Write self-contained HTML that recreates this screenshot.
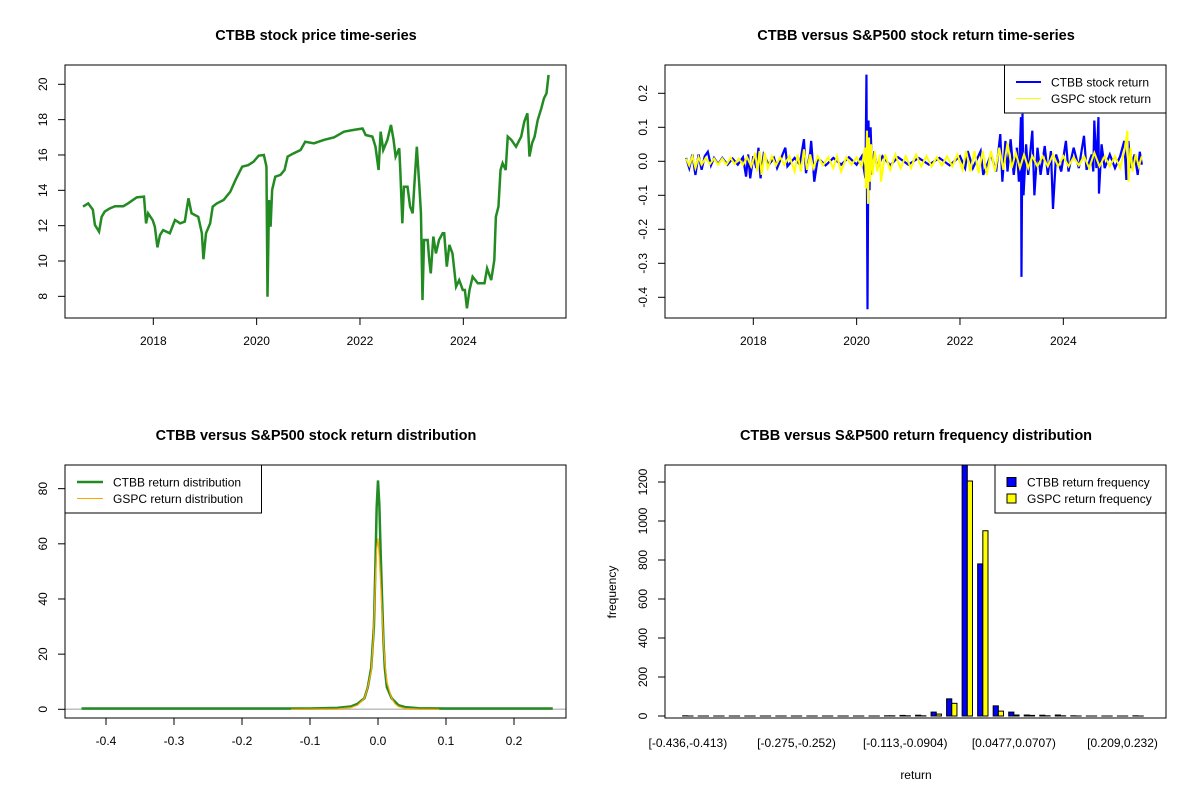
<!DOCTYPE html>
<html><head><meta charset="utf-8"><style>
html,body{margin:0;padding:0;background:#fff;}
svg{display:block;font-family:"Liberation Sans",Arial,sans-serif;}
</style></head><body>
<svg id="chart" width="1200" height="800" viewBox="0 0 1200 800" xmlns="http://www.w3.org/2000/svg">
<rect x="0" y="0" width="1200" height="800" fill="#fff"/>
<defs>
<clipPath id="c1"><rect x="65" y="65" width="501" height="253"/></clipPath>
<clipPath id="c2"><rect x="665" y="65" width="501" height="253"/></clipPath>
<clipPath id="c3"><rect x="65" y="465" width="501" height="253"/></clipPath>
<clipPath id="c4"><rect x="665" y="465" width="501" height="253"/></clipPath>
</defs>
<g id="g1"></g>
<g id="g2"></g>
<g id="g3"></g>
<g id="g4"></g>
</svg>
<script>
// ---- Panel 1: price ----
const priceDates=[2016.64,2016.74,2016.83,2016.87,2016.95,2017.00,2017.06,2017.16,2017.26,2017.42,
2017.51,2017.68,2017.82,2017.86,2017.90,2017.99,2018.03,2018.08,2018.13,2018.19,
2018.32,2018.42,2018.52,2018.61,2018.68,2018.74,2018.87,2018.94,2018.97,2019.02,
2019.10,2019.15,2019.23,2019.36,2019.49,2019.59,2019.72,2019.84,2019.94,2020.04,
2020.14,2020.19,2020.21,2020.24,2020.27,2020.30,2020.36,2020.46,2020.54,2020.60,
2020.72,2020.85,2020.94,2021.11,2021.30,2021.50,2021.69,2021.88,2022.05,2022.11,
2022.24,2022.30,2022.36,2022.40,2022.45,2022.53,2022.60,2022.65,2022.69,2022.76,
2022.78,2022.82,2022.85,2022.92,2022.97,2023.02,2023.05,2023.10,2023.15,2023.18,
2023.21,2023.24,2023.31,2023.34,2023.37,2023.42,2023.47,2023.53,2023.60,2023.63,
2023.68,2023.73,2023.79,2023.86,2023.92,2023.99,2024.03,2024.07,2024.12,2024.18,
2024.28,2024.41,2024.46,2024.54,2024.60,2024.63,2024.68,2024.72,2024.76,2024.82,
2024.86,2024.93,2025.02,2025.12,2025.18,2025.24,2025.28,2025.33,2025.38,2025.44,
2025.51,2025.56,2025.61,2025.65];
const priceValues=[13.08,13.26,12.9,12.04,11.66,12.5,12.8,12.98,13.1,13.1,
13.26,13.6,13.64,12.13,12.7,12.3,11.94,10.77,11.47,11.75,
11.57,12.32,12.13,12.23,13.55,12.7,12.5,11.57,10.1,11.57,
12.13,13.08,13.26,13.45,13.92,14.58,15.34,15.43,15.62,15.96,
16.0,15.34,7.98,13.45,11.94,14.02,14.77,14.87,15.15,15.91,
16.1,16.28,16.75,16.66,16.85,17.0,17.32,17.42,17.5,17.13,
17.04,16.47,15.15,17.32,16.28,16.85,17.7,16.85,15.91,16.38,
15.15,12.13,14.2,14.2,13.08,12.7,14.2,16.47,14.2,12.7,
7.79,11.19,11.19,10.06,9.3,11.38,10.43,11.19,11.57,11.57,
9.68,10.91,10.43,8.55,8.92,8.36,8.36,7.32,8.36,9.11,
8.74,8.74,9.58,8.92,10.06,12.5,13.08,15.15,15.53,15.15,
17.04,16.85,16.47,17.04,17.89,18.36,15.91,16.66,17.04,17.98,
18.64,19.2,19.49,20.53];
const priceTicks=[8,10,12,14,16,18,20];
const yearTicks=[2018,2020,2022,2024];

// ---- Panel 2: returns ----
const ctbbDates=[2016.70,2016.76,2016.82,2016.88,2016.94,2017.00,2017.06,2017.12,2017.18,2017.24,
2017.32,2017.40,2017.50,2017.60,2017.70,2017.80,2017.86,2017.90,2017.94,2018.00,
2018.06,2018.10,2018.14,2018.20,2018.30,2018.40,2018.46,2018.62,2018.66,2018.80,
2018.90,2018.98,2019.02,2019.10,2019.12,2019.16,2019.18,2019.25,2019.40,2019.55,
2019.70,2019.85,2020.00,2020.10,2020.17,2020.19,2020.21,2020.23,2020.25,2020.27,
2020.30,2020.34,2020.40,2020.50,2020.65,2020.80,2021.00,2021.20,2021.40,2021.60,
2021.80,2022.00,2022.10,2022.15,2022.25,2022.40,2022.45,2022.60,2022.70,2022.78,
2022.82,2022.88,2022.92,2022.98,2023.04,2023.10,2023.14,2023.18,2023.19,2023.21,
2023.23,2023.28,2023.32,2023.40,2023.44,2023.50,2023.56,2023.64,2023.70,2023.76,
2023.80,2023.86,2023.96,2024.05,2024.10,2024.20,2024.30,2024.40,2024.45,2024.55,
2024.58,2024.60,2024.64,2024.68,2024.69,2024.74,2024.80,2024.90,2025.00,2025.10,
2025.18,2025.22,2025.26,2025.30,2025.38,2025.44,2025.48,2025.52];
const ctbbReturns=[0.01,-0.02,0.02,-0.04,0.02,-0.025,0.015,0.028,-0.012,0.01,
-0.008,0.01,-0.01,0.008,-0.01,0.012,-0.045,0.02,-0.05,0.015,
-0.02,0.04,-0.05,0.02,-0.01,0.01,-0.02,0.04,-0.015,0.01,
-0.01,0.065,-0.035,0.025,0.06,-0.02,-0.06,0.01,-0.012,0.01,
-0.01,0.012,-0.01,0.015,-0.05,0.255,-0.435,0.12,-0.085,0.1,
-0.04,0.03,-0.02,0.015,-0.012,0.012,-0.01,0.01,-0.01,0.01,
-0.012,0.015,-0.02,0.03,-0.02,0.03,-0.04,0.02,-0.03,0.08,
-0.06,0.06,-0.03,0.065,-0.04,0.04,-0.06,0.13,-0.34,0.14,
-0.1,0.05,-0.04,0.09,-0.1,0.04,-0.04,0.045,-0.04,0.03,
-0.14,0.02,-0.03,0.06,-0.03,0.04,-0.02,0.075,-0.025,0.02,
-0.03,0.12,-0.02,0.13,-0.095,0.05,-0.02,0.02,-0.02,0.015,
0.06,-0.055,0.06,-0.02,0.02,-0.04,0.028,-0.01];
const gspcDates=[2016.70,2016.76,2016.82,2016.88,2016.94,2017.00,2017.08,2017.16,2017.24,2017.32,
2017.40,2017.48,2017.56,2017.64,2017.72,2017.80,2017.88,2017.96,2018.04,2018.08,
2018.12,2018.16,2018.22,2018.28,2018.36,2018.44,2018.52,2018.60,2018.70,2018.80,
2018.86,2018.92,2018.98,2019.04,2019.10,2019.16,2019.25,2019.35,2019.45,2019.55,
2019.62,2019.70,2019.80,2019.90,2020.00,2020.10,2020.16,2020.18,2020.20,2020.22,
2020.24,2020.26,2020.28,2020.31,2020.35,2020.40,2020.45,2020.47,2020.55,2020.65,
2020.75,2020.85,2020.95,2021.05,2021.15,2021.25,2021.35,2021.45,2021.55,2021.65,
2021.75,2021.85,2021.95,2022.05,2022.12,2022.20,2022.28,2022.36,2022.44,2022.52,
2022.60,2022.68,2022.76,2022.84,2022.92,2023.00,2023.08,2023.16,2023.24,2023.32,
2023.40,2023.50,2023.60,2023.70,2023.80,2023.90,2024.00,2024.10,2024.20,2024.30,
2024.40,2024.50,2024.60,2024.70,2024.80,2024.90,2025.00,2025.10,2025.18,2025.24,
2025.26,2025.30,2025.34,2025.40,2025.46,2025.52];
const gspcReturns=[0.008,-0.012,0.015,-0.02,0.012,-0.01,0.01,-0.008,0.008,-0.01,
0.008,-0.01,0.01,-0.008,0.008,-0.01,0.012,-0.015,0.025,-0.03,
0.03,-0.04,0.025,-0.02,0.015,-0.012,0.012,-0.01,0.015,-0.03,
0.02,-0.03,0.035,-0.025,0.02,-0.02,0.015,-0.012,0.012,-0.02,
0.015,-0.03,0.012,-0.01,0.012,-0.015,0.04,-0.08,0.09,-0.125,
0.07,-0.06,0.05,-0.04,0.03,-0.03,0.02,-0.06,0.02,-0.025,
0.02,-0.02,0.015,-0.02,0.02,-0.015,0.015,-0.015,0.012,-0.012,
0.015,-0.015,0.02,-0.025,0.03,-0.03,0.03,-0.035,0.03,-0.04,
0.03,-0.03,0.04,-0.025,0.055,-0.02,0.025,-0.02,0.02,-0.02,
0.015,-0.015,0.015,-0.015,0.02,-0.015,0.015,-0.015,0.012,-0.012,
0.015,-0.02,0.025,-0.015,0.015,-0.015,0.015,-0.02,0.03,0.09,
-0.06,0.04,-0.03,0.02,-0.015,0.015];
const returnTicks=[-0.4,-0.3,-0.2,-0.1,0.0,0.1,0.2];

// ---- Panel 3: density ----
const ctbbDensX=[-0.436,-0.1,-0.06,-0.04,-0.03,-0.02,-0.015,-0.01,-0.006,-0.004,-0.002,0,0.002,0.004,0.006,0.008,0.01,0.013,0.02,0.03,0.04,0.06,0.1,0.257];
const ctbbDensY=[0.3,0.3,0.5,1,2,4,8,15,30,50,73,83,74,56,40,25,15,8,4,1.5,0.8,0.4,0.3,0.3];
const gspcDensX=[-0.128,-0.06,-0.04,-0.03,-0.02,-0.015,-0.01,-0.007,-0.004,-0.002,0,0.002,0.004,0.006,0.008,0.01,0.013,0.02,0.025,0.03,0.04,0.06,0.09];
const gspcDensY=[0,0.1,0.6,1.5,4,8,14,25,45,58,62,55,45,35,25,17,10,4,2,1,0.3,0.05,0];
const densXTicks=[-0.4,-0.3,-0.2,-0.1,0.0,0.1,0.2];
const densYTicks=[0,20,40,60,80];

// ---- Panel 4: histogram ----
const binLabels=["[-0.436,-0.413)","","","","","","","[-0.275,-0.252)","","","","","","","[-0.113,-0.0904)","","","","","","","[0.0477,0.0707)","","","","","","","[0.209,0.232)",""];
const ctbbCounts=[1,0,0,0,0,0,0,0,0,0,0,0,0,1,3,4,20,88,1300,780,52,20,5,4,5,1,0,0,0,1];
const gspcCounts=[0,0,0,0,0,0,0,0,0,0,0,0,0,1,1,1,10,65,1205,950,25,5,3,1,1,0,0,0,0,0];
const freqTicks=[0,200,400,600,800,1000,1200];

const NS="http://www.w3.org/2000/svg";
function mk(parent,tag,attrs,txt){const e=document.createElementNS(NS,tag);for(const k in attrs)e.setAttribute(k,attrs[k]);if(txt!==undefined)e.textContent=txt;parent.appendChild(e);return e;}
function fmt(v){return (Math.abs(v)<1e-9?"0.0":String(v));}

const xYear=y=>153.3+(y-2018)*51.67;
const xYear2=y=>753.3+(y-2018)*51.67;
const yPrice=v=>84.3-(v-20)*17.67;
const yRet=v=>161.3-v*340;
const xDens=v=>378+v*680;
const yDens=v=>709.3-v*2.758;
const unit=5.175, unit0=677.5;
const yFreq=v=>716-v*0.195;

function frame(g,x0,y0,name){
  const r=mk(g,'rect',{x:x0,y:y0,width:501,height:253,fill:'none',stroke:'#000','stroke-width':1});
  
  
}
function title(g,cx,y,t,name){
  const e=mk(g,'text',{x:cx,y:y,'text-anchor':'middle','font-size':'14.5','font-weight':'bold'},t);
  
  
}
function xTick(g,x,yBox,label){
  mk(g,'line',{x1:x,x2:x,y1:yBox,y2:yBox+7,stroke:'#000'});
  const t=mk(g,'text',{x:x,y:yBox+27,'text-anchor':'middle','font-size':'12'},label);
  
  
}
function yTick(g,y,xBox,label){
  mk(g,'line',{x1:xBox-7,x2:xBox,y1:y,y2:y,stroke:'#000'});
  const t=mk(g,'text',{x:0,y:0,'text-anchor':'middle','font-size':'12',transform:`translate(${xBox-18},${y}) rotate(-90)`},label);
  
  
}
function poly(g,xs,ys,fx,fy,color,w,clip,name){
  let d='';
  for(let i=0;i<xs.length;i++){d+=(i?'L':'M')+fx(xs[i]).toFixed(2)+','+fy(ys[i]).toFixed(2);}
  const p=mk(g,'path',{d:d,fill:'none',stroke:color,'stroke-width':w,'clip-path':`url(#${clip})`,'stroke-linejoin':'miter'});
  
  
}

// Panel 1
const g1=document.getElementById('g1');
title(g1,316,40,'CTBB stock price time-series','price-title');
poly(g1,priceDates,priceValues,xYear,yPrice,'#228B22',2.5,'c1','price-line');
frame(g1,65,65,'price-plot-frame');
yearTicks.forEach(y=>xTick(g1,xYear(y),318,String(y)));
priceTicks.forEach(v=>yTick(g1,yPrice(v),65,String(v)));

// Panel 2
const g2=document.getElementById('g2');
title(g2,916,40,'CTBB versus S&P500 stock return time-series','return-title');
poly(g2,ctbbDates,ctbbReturns,xYear2,yRet,'#0000FF',2.2,'c2','ctbb-return-line');
poly(g2,gspcDates,gspcReturns,xYear2,yRet,'#FFFF00',2,'c2','gspc-return-line');
frame(g2,665,65,'return-plot-frame');
yearTicks.forEach(y=>xTick(g2,xYear2(y),318,String(y)));
returnTicks.forEach(v=>yTick(g2,yRet(v),665,fmt(v)));
{
  const lg=mk(g2,'g',{});
  
  
  mk(lg,'rect',{x:1004.5,y:65,width:161.5,height:48,fill:'#fff',stroke:'#000'});
  mk(lg,'line',{x1:1016,x2:1041,y1:82,y2:82,stroke:'#0000FF','stroke-width':2});
  mk(lg,'line',{x1:1016,x2:1041,y1:98.5,y2:98.5,stroke:'#FFFF00','stroke-width':1});
  const t1=mk(lg,'text',{x:1051,y:86.5,'font-size':'12'},'CTBB stock return');
  
  
  const t2=mk(lg,'text',{x:1051,y:103,'font-size':'12'},'GSPC stock return');
  
  
}

// Panel 3
const g3=document.getElementById('g3');
title(g3,316,440,'CTBB versus S&P500 stock return distribution','density-title');
{
  const z=mk(g3,'line',{x1:65,x2:566,y1:yDens(0),y2:yDens(0),stroke:'#BEBEBE','stroke-width':1.5});
  
  
}
poly(g3,ctbbDensX,ctbbDensY,xDens,yDens,'#228B22',2.5,'c3','ctbb-density-line');
poly(g3,gspcDensX,gspcDensY,xDens,yDens,'#FFA500',1.2,'c3','gspc-density-line');
frame(g3,65,465,'density-plot-frame');
densXTicks.forEach(v=>xTick(g3,xDens(v),718,fmt(v)));
densYTicks.forEach(v=>yTick(g3,yDens(v),65,String(v)));
{
  const lg=mk(g3,'g',{});
  
  
  mk(lg,'rect',{x:65,y:465,width:196.5,height:48,fill:'#fff',stroke:'#000'});
  mk(lg,'line',{x1:77,x2:103,y1:482,y2:482,stroke:'#228B22','stroke-width':2.5});
  mk(lg,'line',{x1:77,x2:103,y1:498.5,y2:498.5,stroke:'#FFA500','stroke-width':1});
  const t1=mk(lg,'text',{x:113,y:486.5,'font-size':'12'},'CTBB return distribution');
  
  
  const t2=mk(lg,'text',{x:113,y:503,'font-size':'12'},'GSPC return distribution');
  
  
}

// Panel 4
const g4=document.getElementById('g4');
title(g4,916,440,'CTBB versus S&P500 return frequency distribution','histogram-title');
const bars=mk(g4,'g',{'clip-path':'url(#c4)'});


for(let i=0;i<binLabels.length;i++){
  const xb=unit0+(3*i+1)*unit, xy=xb+unit;
  const hb=ctbbCounts[i]*0.195, hy=gspcCounts[i]*0.195;
  const b=mk(bars,'rect',{x:xb,y:yFreq(ctbbCounts[i]),width:unit,height:Math.max(hb,0.01),fill:'#0000FF',stroke:'#000','stroke-width':1});
  
  
  const y=mk(bars,'rect',{x:xy,y:yFreq(gspcCounts[i]),width:unit,height:Math.max(hy,0.01),fill:'#FFFF00',stroke:'#000','stroke-width':1});
  
  
  if(binLabels[i]){
    const t=mk(g4,'text',{x:unit0+(3*i+2)*unit,y:747,'text-anchor':'middle','font-size':'12'},binLabels[i]);
    
    
  }
}
frame(g4,665,465,'histogram-plot-frame');
freqTicks.forEach(v=>yTick(g4,yFreq(v),665,String(v)));
{
  const yl=mk(g4,'text',{x:0,y:0,'text-anchor':'middle','font-size':'12',transform:'translate(616,592) rotate(-90)'},'frequency');
  
  
  const xl=mk(g4,'text',{x:916,y:779,'text-anchor':'middle','font-size':'12'},'return');
  
  
  const lg=mk(g4,'g',{});
  
  
  mk(lg,'rect',{x:995,y:465,width:171,height:48,fill:'#fff',stroke:'#000'});
  mk(lg,'rect',{x:1007,y:477.5,width:9,height:9,fill:'#0000FF',stroke:'#000'});
  mk(lg,'rect',{x:1007,y:494,width:9,height:9,fill:'#FFFF00',stroke:'#000'});
  const t1=mk(lg,'text',{x:1027,y:486.5,'font-size':'12'},'CTBB return frequency');
  
  
  const t2=mk(lg,'text',{x:1027,y:503,'font-size':'12'},'GSPC return frequency');
  
  
}
</script>
</body></html>
